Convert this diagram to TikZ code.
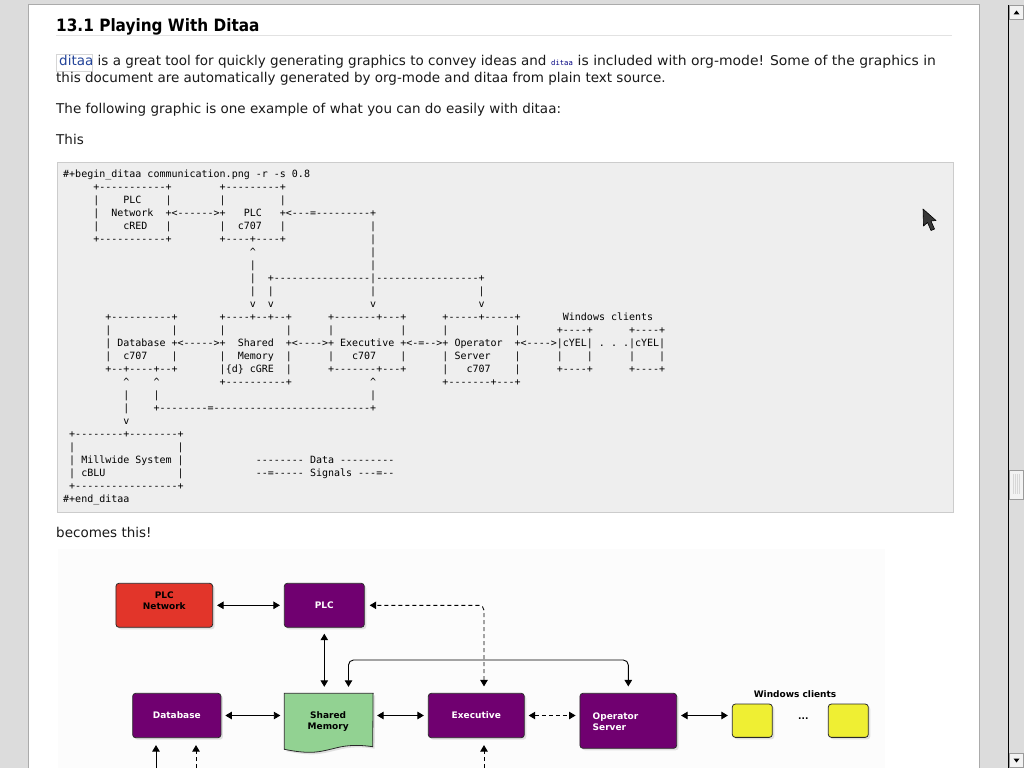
\documentclass[tikz,border=0pt]{standalone}
\usepackage{fontspec}
\usepackage{graphicx}
\setmainfont{DejaVu Sans}
\setmonofont{DejaVu Sans Mono}
\usetikzlibrary{arrows.meta,shadows}
\definecolor{chrome}{HTML}{DCDCDC}
\definecolor{chromeline}{HTML}{ABABAB}
\definecolor{codebg}{HTML}{EEEEEE}
\definecolor{codeframe}{HTML}{CCCCCC}
\definecolor{txt}{HTML}{1A1A1A}
\definecolor{linkblue}{HTML}{23449A}
\definecolor{codeblue}{HTML}{000080}
\definecolor{rulegray}{HTML}{E2E2E2}
\definecolor{linkframe}{HTML}{D6D6D6}
\definecolor{imgbg}{HTML}{FCFCFC}
\definecolor{dpurple}{HTML}{700070}
\definecolor{dred}{HTML}{E2352A}
\definecolor{dgreen}{HTML}{92D292}
\definecolor{dyellow}{HTML}{EFEF33}
\definecolor{dborder}{HTML}{2A2A2A}
\definecolor{btnfill}{HTML}{F2F2F2}
\definecolor{btnline}{HTML}{9A9A9A}
\newcommand\SP[1]{\hspace*{\dimexpr#1\fontcharwd\font`0\relax}}
\newcommand\CRT{\textasciicircum}
\begin{document}
\begin{tikzpicture}[x=1pt,y=-1pt,
  codeline/.style={anchor=base west, inner sep=0pt, font=\ttfamily\fontsize{10}{13}\selectfont, text=black},
  body/.style={anchor=base west, inner sep=0pt, font=\fontsize{13.5}{17}\selectfont, text=txt},
  shadowed/.style={drop shadow={shadow xshift=2pt, shadow yshift=-2pt, opacity=0.22}},
  dbox/.style={draw=dborder, line width=0.8pt, rounded corners=3pt, inner sep=0pt, shadowed,
     font=\fontsize{9}{10.7}\selectfont\bfseries, align=center},
  dtext/.style={inner sep=0pt, font=\fontsize{9}{10.7}\selectfont\bfseries},
  arr/.style={line width=0.9pt, draw=black, {Triangle[length=6.5pt,width=7.5pt]}-{Triangle[length=6.5pt,width=7.5pt]}, shorten <=4pt, shorten >=4pt},
  uarr/.style={line width=0.9pt, draw=black, -{Triangle[length=6.5pt,width=7.5pt]}, shorten >=7pt},
  dsh/.style={dash pattern=on 4pt off 3pt},
]
\useasboundingbox (0,0) rectangle (1024,768);
% ---------- browser chrome ----------
\fill[chrome] (0,0) rectangle (1024,768);
\fill[white] (28,5) rectangle (980,768);
\draw[chromeline, line width=0.8pt] (28.4,768) -- (28.4,4.6) -- (979.6,4.6) -- (979.6,768);
\fill[chrome] (1009,5) rectangle (1024,768);
\draw[black, line width=1pt] (1008.5,5) -- (1008.5,768);
\draw[fill=btnfill, draw=btnline] (1009.5,5.5) rectangle (1023.5,19.5);
\fill (1013.5,14.5) -- (1019.5,14.5) -- (1016.5,10.5) -- cycle;
\draw[fill=btnfill, draw=btnline] (1009.5,470.5) rectangle (1023.5,499);
\foreach \yy in {475,477,...,493} \foreach \xx in {1013.5,1015.5,1017.5,1019.5} \fill[gray] (\xx,\yy) circle[radius=0.45pt];
\draw[fill=btnfill, draw=btnline] (1009.5,753.5) rectangle (1023.5,767.5);
\fill (1013.5,758.5) -- (1019.5,758.5) -- (1016.5,762.5) -- cycle;
% ---------- heading ----------
\node[anchor=base west, inner sep=0pt, text=black] (head) at (56,31.5)
  {\scalebox{0.9}[1]{\fontsize{17}{20}\selectfont\bfseries 13.1 Playing With Ditaa}};
\draw[rulegray, line width=1pt] (56,35.5) -- (952,35.5);
% ---------- paragraphs ----------
\node[draw=linkframe, fill=white, line width=0.8pt, inner sep=0pt, minimum width=36pt, minimum height=16.5pt, anchor=north west] (lnkbox) at (56.3,54.3) {};
\node[body, text=linkblue] (lnk) at (59,65.7) {ditaa};
\node[body] (p1a) at (97.5,65.7) {is a great tool for quickly generating graphics to convey ideas and};
\node[anchor=base west, inner sep=0pt, font=\ttfamily\fontsize{7.2}{9}\selectfont, text=codeblue] (p1code) at (551,65.7) {ditaa};
\node[body] (p1c) at (577.5,65.7) {\scalebox{1.033}[1]{is included with org-mode! Some of the graphics in}};
\node[body] (p1b) at (56,82.3) {this document are automatically generated by org-mode and ditaa from plain text source.};
\node[body] (p2) at (56,113.3) {The following graphic is one example of what you can do easily with ditaa:};
\node[body] (p3) at (56,144) {This};
% ---------- code block ----------
\node[draw=codeframe, fill=codebg, line width=1pt, inner sep=0pt, minimum width=896pt, minimum height=350pt, anchor=north west] (codebox) at (56.5,161.5) {};
\node[codeline] (l1) at (63,177.5) {\#+begin\_ditaa communication.png -r -s 0.8};
\node[codeline] (l2) at (63,190.5) {\SP{5}+-----------+\SP{8}+---------+};
\node[codeline] (l3) at (63,203.5) {\SP{5}|\SP{4}PLC\SP{4}|\SP{8}|\SP{9}|};
\node[codeline] (l4) at (63,216.5) {\SP{5}|\SP{2}Network\SP{2}+<------>+\SP{3}PLC\SP{3}+<---=---------+};
\node[codeline] (l5) at (63,229.5) {\SP{5}|\SP{4}cRED\SP{3}|\SP{8}|\SP{2}c707\SP{3}|\SP{14}|};
\node[codeline] (l6) at (63,242.5) {\SP{5}+-----------+\SP{8}+----+----+\SP{14}|};
\node[codeline] (l7) at (63,255.5) {\SP{31}\CRT\SP{19}|};
\node[codeline] (l8) at (63,268.5) {\SP{31}|\SP{19}|};
\node[codeline] (l9) at (63,281.5) {\SP{31}|\SP{2}+----------------|-----------------+};
\node[codeline] (l10) at (63,294.5) {\SP{31}|\SP{2}|\SP{16}|\SP{17}|};
\node[codeline] (l11) at (63,307.5) {\SP{31}v\SP{2}v\SP{16}v\SP{17}v};
\node[codeline] (l12) at (63,320.5) {\SP{7}+----------+\SP{7}+----+--+--+\SP{6}+-------+---+\SP{6}+-----+-----+\SP{7}Windows~clients};
\node[codeline] (l13) at (63,333.5) {\SP{7}|\SP{10}|\SP{7}|\SP{10}|\SP{6}|\SP{11}|\SP{6}|\SP{11}|\SP{6}+----+\SP{6}+----+};
\node[codeline] (l14) at (63,346.5) {\SP{7}|~Database~+<----->+\SP{2}Shared\SP{2}+<---->+~Executive~+<-=-->+~Operator\SP{2}+<---->|cYEL|~.~.~.|cYEL|};
\node[codeline] (l15) at (63,359.5) {\SP{7}|\SP{2}c707\SP{4}|\SP{7}|\SP{2}Memory\SP{2}|\SP{6}|\SP{3}c707\SP{4}|\SP{6}|~Server\SP{4}|\SP{6}|\SP{4}|\SP{6}|\SP{4}|};
\node[codeline] (l16) at (63,372.5) {\SP{7}+--+----+--+\SP{7}|\{d\}~cGRE\SP{2}|\SP{6}+-------+---+\SP{6}|\SP{3}c707\SP{4}|\SP{6}+----+\SP{6}+----+};
\node[codeline] (l17) at (63,385.5) {\SP{10}\CRT\SP{4}\CRT\SP{10}+----------+\SP{13}\CRT\SP{11}+-------+---+};
\node[codeline] (l18) at (63,398.5) {\SP{10}|\SP{4}|\SP{35}|};
\node[codeline] (l19) at (63,411.5) {\SP{10}|\SP{4}+--------=--------------------------+};
\node[codeline] (l20) at (63,424.5) {\SP{10}v};
\node[codeline] (l21) at (63,437.5) {~+--------+--------+};
\node[codeline] (l22) at (63,450.5) {~|\SP{17}|};
\node[codeline] (l23) at (63,463.5) {~|~Millwide~System~|\SP{12}--------~Data~---------};
\node[codeline] (l24) at (63,476.5) {~|~cBLU\SP{12}|\SP{12}--=-----~Signals~---=--};
\node[codeline] (l25) at (63,489.5) {~+-----------------+};
\node[codeline] (l26) at (63,502.5) {\#+end\_ditaa};
% ---------- after code ----------
\node[body] (p4) at (56,537) {becomes this!};
% ---------- rendered diagram ----------
\fill[imgbg] (58,549) rectangle (885,768);
\node[dbox, fill=dred, minimum width=96.7pt, minimum height=44pt] (plcnet) at (164.3,605.3) {};
\node[dtext, align=center, text=black] (plcnett) at (164.3,600.8) {PLC\\Network};
\node[dbox, fill=dpurple, text=white, minimum width=80pt, minimum height=44pt] (plc) at (324.3,605.3) {PLC};
\node[dbox, fill=dpurple, text=white, minimum width=88.3pt, minimum height=44.4pt] (db) at (176.8,715.5) {Database};
\node[inner sep=0pt, minimum width=88.4pt, minimum height=56pt, anchor=north west] (shm) at (284.3,693.3) {};
\path[draw=dborder, line width=0.8pt, fill=dgreen, shadowed] (shm.north west) -- (shm.north east) -- (372.7,746.7)
  .. controls (362,745.2) and (352,744.6) .. (340,747)
  .. controls (326,750.2) and (318,753) .. (305,752.2)
  .. controls (296,751.6) and (290,750.4) .. (284.3,749.3) -- cycle;
\node[dtext, align=center, text=black] (shmt) at (328.2,721.2) {Shared\\Memory};
\node[dbox, fill=dpurple, text=white, minimum width=96pt, minimum height=44.4pt] (exe) at (476.3,715.5) {Executive};
\node[dbox, fill=dpurple, minimum width=96.7pt, minimum height=55pt] (ops) at (628.3,720.8) {};
\node[dtext, align=left, text=white, anchor=west] (opst) at (592.5,721.5) {Operator\\Server};
\node[dtext, text=black] (wint) at (795,694.3) {Windows clients};
\node[dbox, fill=dyellow, minimum width=40pt, minimum height=33.3pt] (win1) at (752.3,720.7) {};
\node[dbox, fill=dyellow, minimum width=40pt, minimum height=33.3pt] (win2) at (848.3,720.7) {};
\node[dtext, text=black] (dots) at (803.3,718.5) {...};
% connectors
\draw[arr] (plcnet) -- (plc);
\draw[arr, shorten <=6pt, shorten >=6.5pt] (plc.south) -- (plc.south |- shm.north);
\draw[arr] (db.east) -- (shm.west |- db.east);
\draw[arr] (shm.east |- exe.west) -- (exe.west);
\draw[arr, dsh] (exe.east) -- (ops.west |- exe.east);
\draw[arr] (ops.east |- exe.east) -- (win1.west |- exe.east);
\coordinate (bus) at (628.3,660);
\draw[arr, rounded corners=5pt, shorten <=6.5pt, shorten >=6.5pt] ([xshift=19.8pt]shm.north) |- (bus) -- (ops.north);
\draw[arr, dsh, rounded corners=5pt, shorten <=6.5pt, shorten >=5pt] ([xshift=7.7pt]exe.north) |- (plc.east);
\coordinate (b1) at (156,768);
\coordinate (b2) at (196,768);
\coordinate (b3) at (484,768);
\draw[uarr] (b1) -- (b1 |- db.south);
\draw[uarr, dsh] (b2) -- (b2 |- db.south);
\draw[uarr, dsh] (b3) -- (b3 |- exe.south);
% ---------- mouse pointer ----------
\path[fill=black!78, draw=black, line width=0.6pt, line join=round]
  (923,209) -- (923.5,226) -- (927.5,222.5) -- (931,230.5) -- (934.5,229) -- (931,221) -- (936,220.5) -- cycle;
\end{tikzpicture}
\end{document}
